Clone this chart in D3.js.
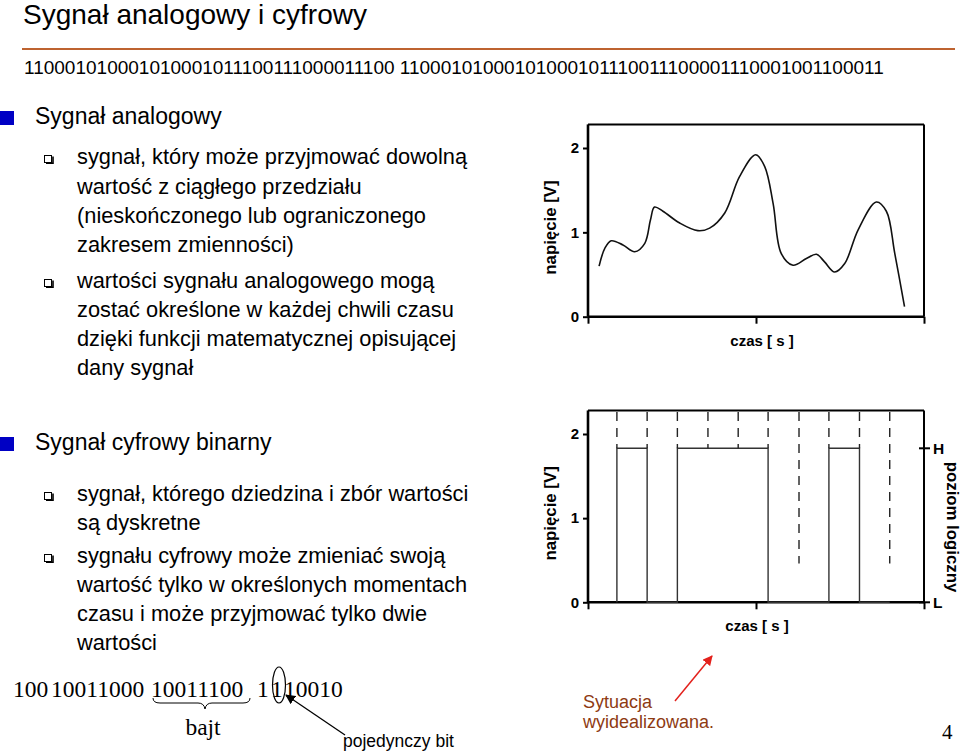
<!DOCTYPE html>
<html><head><meta charset="utf-8">
<script src="https://cdn.jsdelivr.net/npm/d3@7"></script>
<style>
html,body{margin:0;padding:0;background:#fff;}
svg{display:block;}
</style></head>
<body>
<script>
// ---------- data ----------
const titleText = "Sygnał analogowy i cyfrowy";
const topBits = "110001010001010001011100111000011100 11000101000101000101110011100001110001001100011";
const headers = ["Sygnał analogowy", "Sygnał cyfrowy binarny"];
const analogBullets = [
  ["sygnał, który może przyjmować dowolną", "wartość z ciągłego przedziału", "(nieskończonego lub ograniczonego", "zakresem zmienności)"],
  ["wartości sygnału analogowego mogą", "zostać określone w każdej chwili czasu", "dzięki funkcji matematycznej opisującej", "dany sygnał"]
];
const digitalBullets = [
  ["sygnał, którego dziedzina i zbór wartości", "są dyskretne"],
  ["sygnału cyfrowy może zmieniać swoją", "wartość tylko w określonych momentach", "czasu i może przyjmować tylko dwie", "wartości"]
];
const xTicks = [0, 5, 10];
const yTicks = [0, 1, 2];
const yTickLabels = ["0", "1", "2"];
const analogT = [0.33,0.5,0.69,1.04,1.39,1.69,1.86,1.98,2.23,2.73,3.27,3.62,4.07,4.51,4.99,5.26,5.51,5.75,6.1,6.5,6.8,7.04,7.34,7.64,8.04,8.58,8.88,9.13,9.42];
const analogV = [0.60,0.81,0.90,0.85,0.77,0.87,1.15,1.30,1.25,1.11,1.02,1.05,1.23,1.66,1.92,1.78,1.34,0.75,0.61,0.69,0.74,0.65,0.53,0.63,1.03,1.36,1.25,0.75,0.12];
const bitEdges = [0.86,1.76,2.66,3.57,4.47,5.36,6.28,7.17,8.08,8.98];
const bits = [1,0,1,1,1,0,0,1,0];
const levelH = 1.83;
const dashTop = 2.26;
const dashLow = 0.46;
const logicLabels = ["H", "L"];
const bottomTokens = ["100", "10011000", "10011100", "1", "1", "10010"];
const bottomTokenX = [13, 51, 151, 257, 271, 284];
const noteLines = ["Sytuacja", "wyidealizowana."];

// ---------- svg ----------
const W = 960, H = 753;
const svg = d3.select("body").append("svg").attr("width", W).attr("height", H);
const SANS = "'Liberation Sans', Arial, sans-serif";
const SERIF = "'Liberation Serif', 'Times New Roman', serif";

svg.append("text").attr("x", 23).attr("y", 24).attr("font-family", SANS).attr("font-size", 28).attr("fill", "#000").text(titleText);
svg.append("line").attr("x1", 22).attr("x2", 955).attr("y1", 49).attr("y2", 49).attr("stroke", "#BE6330").attr("stroke-width", 2.2);
svg.append("text").attr("x", 24).attr("y", 74).attr("font-family", SANS).attr("font-size", 19).text(topBits);

// headers
const headerY = [124, 450];
headers.forEach((h, i) => {
  svg.append("rect").attr("x", 0).attr("y", headerY[i] - 13).attr("width", 14).attr("height", 14).attr("fill", "#0000C4");
  svg.append("text").attr("x", 35).attr("y", headerY[i]).attr("font-family", SANS).attr("font-size", 23).text(h);
});

function checkbox(y) {
  const g = svg.append("g");
  g.append("rect").attr("x", 44.5).attr("y", y - 8.5).attr("width", 7).attr("height", 7).attr("fill", "#fff").attr("stroke", "#000").attr("stroke-width", 1);
  g.append("path").attr("d", `M46,${y - 0.8} L53,${y - 0.8} L53,${y - 7.5}`).attr("fill", "none").attr("stroke", "#000").attr("stroke-width", 1.6);
}
function bulletBlock(groups, baselines) {
  let k = 0;
  groups.forEach(lines => {
    lines.forEach((ln, j) => {
      const y = baselines[k++];
      if (j === 0) checkbox(y);
      svg.append("text").attr("x", 77).attr("y", y).attr("font-family", SANS).attr("font-size", 21.8).text(ln);
    });
  });
}
bulletBlock(analogBullets, [164, 194, 223, 252, 288, 317, 346, 375]);
bulletBlock(digitalBullets, [501, 530, 563, 592, 621, 650]);

// ---------- charts ----------
const x = d3.scaleLinear().domain([0, 10]).range([588, 924]);
function chart(y0, y2, opts) {
  const y = d3.scaleLinear().domain([0, 2]).range([y0, y2]);
  const g = svg.append("g");
  const top = y(2.28);
  g.append("line").attr("x1", x(0)).attr("x2", x(10)).attr("y1", top).attr("y2", top).attr("stroke", "#000").attr("stroke-width", 2);
  g.append("line").attr("x1", x(10)).attr("x2", x(10)).attr("y1", top).attr("y2", y(0)).attr("stroke", "#000").attr("stroke-width", 2);
  const yAxis = g.append("g").attr("transform", `translate(${x(0)},0)`)
    .call(d3.axisLeft(y).tickValues(yTicks).tickFormat((d, i) => yTickLabels[i]).tickSizeOuter(0).tickSize(5).tickPadding(4));
  const xAxis = g.append("g").attr("transform", `translate(0,${y(0)})`)
    .call(d3.axisBottom(x).tickValues(xTicks).tickFormat("").tickSizeOuter(0).tickSize(7));
  [yAxis, xAxis].forEach(a => {
    a.select(".domain").attr("stroke-width", 2.6).attr("stroke", "#000");
    a.selectAll(".tick line").attr("stroke-width", 2).attr("stroke", "#000");
  });
  yAxis.select(".domain").attr("d", `M0,${top}V${y(0)}`);
  xAxis.select(".domain").attr("d", `M${x(0)},0H${x(10)}`);
  yAxis.selectAll(".tick text").attr("font-family", SANS).attr("font-weight", "bold").attr("font-size", 15).attr("fill", "#000");
  g.append("text").attr("transform", `translate(550,${(y(0) + top) / 2 + 7}) rotate(-90)`).attr("text-anchor", "middle").attr("dominant-baseline", "central")
    .attr("font-family", SANS).attr("font-weight", "bold").attr("font-size", 16.8).text("napięcie [V]");
  g.append("text").attr("x", opts.czasX).attr("y", y(0) + 29).attr("text-anchor", "middle")
    .attr("font-family", SANS).attr("font-weight", "bold").attr("font-size", 15).text("czas [ s ]");
  return {g, y};
}

// analog
const A = chart(316.7, 148, {czasX: 762});
const analogData = analogT.map((t, i) => [t, analogV[i]]);
A.g.append("path").datum(analogData)
  .attr("d", d3.line().x(d => x(d[0])).y(d => A.y(d[1])).curve(d3.curveCatmullRom.alpha(0.5)))
  .attr("fill", "none").attr("stroke", "#111").attr("stroke-width", 1.6);

// digital
const D = chart(602.3, 434, {czasX: 757});
const stepData = [[bitEdges[0], 0]];
bits.forEach((b, i) => { stepData.push([bitEdges[i], b ? levelH : 0]); stepData.push([bitEdges[i + 1], b ? levelH : 0]); });
stepData.push([bitEdges[bitEdges.length - 1], 0]);
D.g.append("path").datum(stepData)
  .attr("d", d3.line().x(d => x(d[0])).y(d => D.y(d[1])))
  .attr("fill", "none").attr("stroke", "#333").attr("stroke-width", 1.4);
bitEdges.forEach((t, i) => {
  const left = i > 0 ? bits[i - 1] : 0, right = i < bits.length ? bits[i] : 0;
  const bottom = (left || right) ? levelH : dashLow;
  D.g.append("line").attr("x1", x(t)).attr("x2", x(t)).attr("y1", D.y(dashTop)).attr("y2", D.y(bottom))
    .attr("stroke", "#222").attr("stroke-width", 1.4).attr("stroke-dasharray", "9,7");
});
[levelH, 0].forEach((v, i) => {
  D.g.append("line").attr("x1", x(10) - 5).attr("x2", x(10) + 6).attr("y1", D.y(v)).attr("y2", D.y(v)).attr("stroke", "#000").attr("stroke-width", 2);
  D.g.append("text").attr("x", x(10) + 9).attr("y", D.y(v)).attr("dominant-baseline", "central")
    .attr("font-family", SANS).attr("font-weight", "bold").attr("font-size", 15.5).text(logicLabels[i]);
});
D.g.append("text").attr("transform", `translate(952,527) rotate(90)`).attr("text-anchor", "middle").attr("dominant-baseline", "central")
  .attr("font-family", SANS).attr("font-weight", "bold").attr("font-size", 16.8).text("poziom logiczny");

// ---------- bottom annotations ----------
bottomTokens.forEach((t, i) => {
  svg.append("text").attr("x", bottomTokenX[i]).attr("y", 697).attr("font-family", SERIF).attr("font-size", 23.5).text(t);
});
svg.append("path").attr("d", "M153,698 Q153,703 160,703 L198,703 Q204,703 205,709 Q206,703 212,703 L243,703 Q250,703 250,698")
  .attr("fill", "none").attr("stroke", "#000").attr("stroke-width", 1);
svg.append("text").attr("x", 203).attr("y", 735).attr("text-anchor", "middle").attr("font-family", SERIF).attr("font-size", 23.5).text("bajt");
svg.append("ellipse").attr("cx", 279).attr("cy", 685).attr("rx", 6.5).attr("ry", 18).attr("fill", "none").attr("stroke", "#000").attr("stroke-width", 1.2);

const defs = svg.append("defs");
function marker(id, color) {
  defs.append("marker").attr("id", id).attr("viewBox", "0 0 10 10").attr("refX", 9).attr("refY", 5)
    .attr("markerWidth", 10).attr("markerHeight", 10).attr("markerUnits", "userSpaceOnUse").attr("orient", "auto")
    .append("path").attr("d", "M0,0 L10,5 L0,10 Z").attr("fill", color);
}
marker("ab", "#000");
marker("ar", "#E3211C");
svg.append("line").attr("x1", 345).attr("y1", 735).attr("x2", 286).attr("y2", 695).attr("stroke", "#000").attr("stroke-width", 1.3).attr("marker-end", "url(#ab)");
svg.append("text").attr("x", 343).attr("y", 747).attr("font-family", SANS).attr("font-size", 17.5).text("pojedynczy bit");

svg.append("line").attr("x1", 675).attr("y1", 701).attr("x2", 712).attr("y2", 656).attr("stroke", "#E3211C").attr("stroke-width", 1.5).attr("marker-end", "url(#ar)");
noteLines.forEach((t, i) => svg.append("text").attr("x", 583).attr("y", 708 + i * 20)
  .attr("font-family", SANS).attr("font-size", 18).attr("fill", "#8E3A12").text(t));
svg.append("text").attr("x", 942).attr("y", 739).attr("font-family", SERIF).attr("font-size", 21).text("4");
</script>
</body></html>
